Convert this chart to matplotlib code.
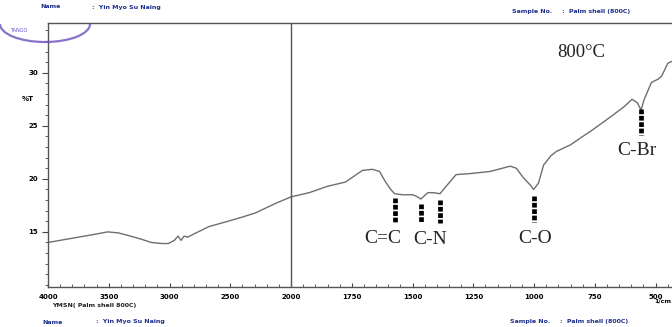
import numpy as np
import matplotlib
matplotlib.use("Agg")
import matplotlib.pyplot as plt
from matplotlib.patches import Arc

# ---- data ----
wavenumber = [4000, 3900, 3800, 3700, 3600, 3510, 3420, 3320, 3230, 3150, 3060, 3010,
              2960, 2930, 2905, 2880, 2850, 2800, 2675, 2550, 2400, 2290, 2125, 2000,
              1925, 1850, 1776, 1706, 1665, 1636, 1611, 1590, 1574, 1541, 1499, 1480,
              1466, 1437, 1416, 1387, 1362, 1321, 1263, 1180, 1098, 1073, 1044, 1015,
              1002, 982, 961, 930, 907, 851, 800, 767, 700, 630, 597, 576, 560, 547,
              517, 490, 475, 450, 422, 413]
transmittance = [14.0, 14.2, 14.4, 14.6, 14.8, 15.0, 14.9, 14.6, 14.3, 14.0, 13.9, 13.9,
                 14.2, 14.6, 14.2, 14.6, 14.5, 14.8, 15.5, 15.9, 16.4, 16.8, 17.7, 18.3,
                 18.7, 19.3, 19.7, 20.8, 20.9, 20.7, 19.7, 19.0, 18.6, 18.5, 18.5, 18.3,
                 18.1, 18.7, 18.7, 18.6, 19.3, 20.4, 20.5, 20.7, 21.2, 21.0, 20.1, 19.4,
                 19.0, 19.6, 21.3, 22.2, 22.6, 23.2, 24.0, 24.5, 25.6, 26.8, 27.5, 27.2,
                 26.5, 27.5, 29.1, 29.4, 29.7, 30.9, 31.2, 31.4]

band_labels = ["C=C", "C-N", "C-O", "C-Br"]
band_marks = [[1574], [1466, 1387], [1002], [560]]
x_major = [4000, 3500, 3000, 2500, 2000, 1750, 1500, 1250, 1000, 750, 500]
y_major = [15, 20, 25, 30]


def fwd(w):
    w = np.asarray(w, dtype=float)
    return np.where(w >= 2000, w, 2 * w - 2000)


def inv(u):
    u = np.asarray(u, dtype=float)
    return np.where(u >= 2000, u, (u + 2000) / 2)


fig = plt.figure(figsize=(6.72, 3.27), dpi=100)
ax = fig.add_axes([48 / 672, 1 - 287 / 327, 1 - 48 / 672 + 0.01, (287 - 23) / 327])
ax.set_xscale('function', functions=(fwd, inv))
ax.set_xlim(4000, 405)
ax.set_ylim(9.8, 34.7)

ax.plot(wavenumber, transmittance, color='#6e6e6e', lw=1.0)
ax.axvline(2000, color='#555555', lw=1.0)

# band markers and labels
mark_ranges = {1574: (18.2, 15.8), 1466: (17.6, 15.8), 1387: (18.0, 15.8),
               1002: (18.4, 15.9), 560: (26.6, 24.1)}
for grp in band_marks:
    for w in grp:
        y0, y1 = mark_ranges[w]
        ax.plot([w, w], [y0, y1], color='black', lw=3.4, ls=(0, (1.0, 0.35)),
                solid_capstyle='butt', dash_capstyle='butt')
label_pos = [(1623, 14.4), (1429, 14.3), (994, 14.4), (576, 22.7)]
serif = ['Liberation Serif', 'DejaVu Serif']
for t, (lx, ly) in zip(band_labels, label_pos):
    ax.text(lx, ly, t, ha='center', va='center', fontsize=14, family=serif, color='#222222')
ax.text(804, 31.9, "800°C", ha='center', va='center', fontsize=13.5, family=serif,
        color='#222222')

# ticks
ax.set_xticks(x_major)
ax.set_xticklabels([str(v) for v in x_major], fontsize=5, fontweight='bold')
minor = list(range(3900, 2000, -100)) + list(range(1950, 400, -50))
ax.set_xticks([m for m in minor if m not in x_major], minor=True)
ax.set_yticks(y_major)
ax.set_yticklabels([str(v) for v in y_major], fontsize=5, fontweight='bold')
ax.set_yticks(np.arange(10, 35), minor=True)
ax.tick_params(axis='x', which='both', direction='in', length=3, pad=5, color='#444444')
ax.tick_params(axis='x', which='minor', length=2)
ax.tick_params(axis='y', which='major', direction='out', length=4, pad=3, color='#444444')
ax.tick_params(axis='y', which='minor', direction='out', length=2, color='#444444')
for s in ['right']:
    ax.spines[s].set_visible(False)
for s in ['left', 'bottom', 'top']:
    ax.spines[s].set_color('#555555')
    ax.spines[s].set_linewidth(1.0)

fig.text(28 / 672, 1 - 99 / 327, "%T", fontsize=5, fontweight='bold', ha='center', va='center')
fig.text(671 / 672, 1 - 301 / 327, "1/cm", fontsize=4.5, fontweight='bold', ha='right', va='center')

blue = '#1c2f8c'
fig.text(40 / 672, 1 - 7 / 327, "Name", fontsize=4.5, fontweight='bold', color=blue, va='center')
fig.text(92 / 672, 1 - 7 / 327, ":  Yin Myo Su Naing", fontsize=4.5, fontweight='bold', color=blue, va='center')
fig.text(512 / 672, 1 - 11 / 327, "Sample No.", fontsize=4.5, fontweight='bold', color=blue, va='center')
fig.text(562 / 672, 1 - 11 / 327, ":  Palm shell (800C)", fontsize=4.5, fontweight='bold', color=blue, va='center')
fig.text(52 / 672, 1 - 306 / 327, "YMSN( Palm shell 800C)", fontsize=4.5, fontweight='bold', color='#222222', va='center')
fig.text(42 / 672, 1 - 322 / 327, "Name", fontsize=4.5, fontweight='bold', color=blue, va='center')
fig.text(96 / 672, 1 - 322 / 327, ":  Yin Myo Su Naing", fontsize=4.5, fontweight='bold', color=blue, va='center')
fig.text(510 / 672, 1 - 322 / 327, "Sample No.", fontsize=4.5, fontweight='bold', color=blue, va='center')
fig.text(560 / 672, 1 - 322 / 327, ":  Palm shell (800C)", fontsize=4.5, fontweight='bold', color=blue, va='center')

# stamp fragment
stamp = Arc((45 / 672, 1 - 24 / 327), 90 / 672, 36 / 327, theta1=180, theta2=360,
            transform=fig.transFigure, color='#6a4fc0', lw=1.6, alpha=0.8)
fig.add_artist(stamp)
fig.text(10 / 672, 1 - 30 / 327, "TANGO", fontsize=3.5, color='#6a4fc0', va='center')

fig.savefig("out.png", dpi=100)
